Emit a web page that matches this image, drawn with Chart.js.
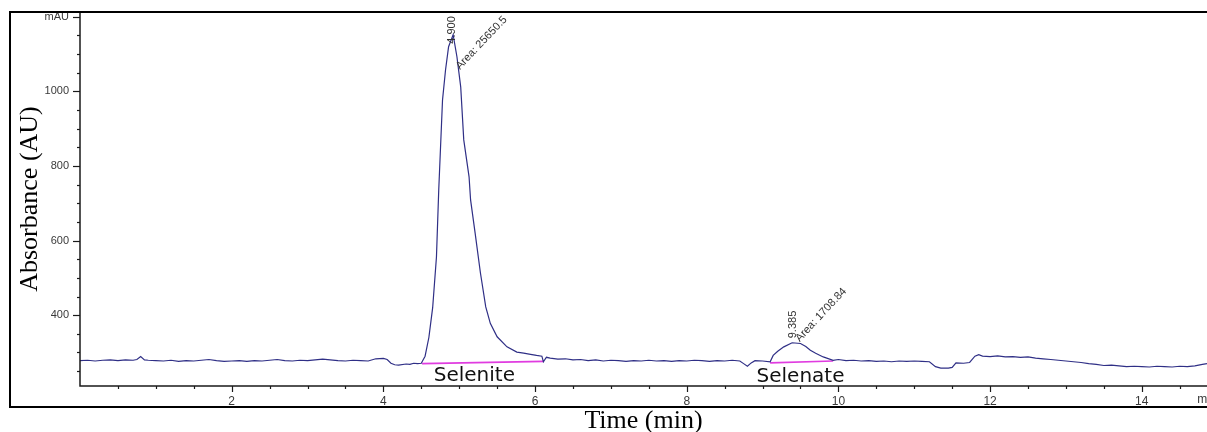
<!DOCTYPE html>
<html>
<head>
<meta charset="utf-8">
<script src="https://cdn.jsdelivr.net/npm/chart.js@4/dist/chart.umd.min.js"></script>
<style>
  html, body { margin: 0; padding: 0; background: #fff; }
  #wrap { width: 1207px; height: 432px; position: relative; }
</style>
</head>
<body>
<div id="wrap"><canvas id="c" width="1207" height="432"></canvas></div>
<script>
// ---- Data ----
const timeMin = [
  0.0, 0.1, 0.2, 0.3, 0.4, 0.5, 0.6, 0.7, 0.75, 0.8, 0.85, 0.9, 1.0, 1.1, 1.2, 1.3, 1.4, 1.5, 1.6, 1.7,
  1.8, 1.9, 2.0, 2.1, 2.2, 2.3, 2.4, 2.5, 2.6, 2.7, 2.8, 2.9, 3.0, 3.1, 3.2, 3.3, 3.4, 3.5, 3.6, 3.7,
  3.8, 3.9, 4.0, 4.05, 4.1, 4.15, 4.2, 4.3, 4.35, 4.4, 4.45, 4.5, 4.55, 4.6, 4.65, 4.70, 4.73, 4.78, 4.82, 4.86,
  4.92, 4.97, 5.02, 5.06, 5.13, 5.15, 5.21, 5.28, 5.35, 5.41, 5.50, 5.63, 5.76, 5.85, 5.94, 6.02, 6.09, 6.11, 6.15, 6.2,
  6.3, 6.4, 6.5, 6.6, 6.7, 6.8, 6.9, 7.0, 7.1, 7.2, 7.3, 7.4, 7.5, 7.6, 7.7, 7.8, 7.9, 8.0, 8.1, 8.2,
  8.3, 8.4, 8.5, 8.6, 8.7, 8.75, 8.8, 8.85, 8.9, 9.0, 9.1, 9.14, 9.2, 9.28, 9.39, 9.5, 9.57, 9.63, 9.7, 9.8,
  9.93, 10.0, 10.1, 10.2, 10.3, 10.4, 10.5, 10.6, 10.7, 10.8, 10.9, 11.0, 11.1, 11.2, 11.28, 11.35, 11.45, 11.5, 11.55, 11.65,
  11.73, 11.8, 11.85, 11.9, 12.0, 12.1, 12.2, 12.3, 12.4, 12.5, 12.6, 12.7, 12.8, 12.9, 13.0, 13.1, 13.2, 13.3, 13.4, 13.5,
  13.6, 13.7, 13.8, 13.9, 14.0, 14.1, 14.2, 14.3, 14.4, 14.5, 14.6, 14.7, 14.8, 14.86
];
const absorbanceMAU = [
  278, 279, 277, 279, 280, 278, 280, 279, 281, 289, 280, 279, 278, 277, 279, 276, 278, 277, 279, 281,
  278, 276, 277, 278, 276, 278, 277, 279, 281, 278, 277, 279, 278, 280, 282, 280, 278, 277, 279, 278,
  277, 283, 284, 281, 271, 267, 266, 269, 268, 271, 270, 271, 290, 340, 420, 556, 735, 977, 1058, 1120,
  1152, 1093, 1012, 870, 771, 709, 620, 513, 422, 378, 342, 315, 301, 298, 295, 292, 290, 275, 287, 285,
  282, 283, 280, 281, 278, 280, 277, 279, 278, 276, 278, 277, 279, 277, 278, 276, 278, 277, 279, 278,
  276, 278, 277, 279, 277, 270, 263, 272, 278, 277, 275, 292, 303, 315, 326, 324, 316, 306, 298, 288,
  279, 281, 278, 279, 277, 278, 276, 277, 275, 277, 276, 277, 276, 275, 262, 258, 258, 260, 272, 271,
  273, 290, 294, 290, 289, 291, 288, 289, 287, 288, 285, 283, 281, 279, 277, 275, 273, 270, 268, 265,
  266, 264, 262, 263, 262, 261, 263, 262, 261, 263, 262, 264, 268, 270
];
// Integration baselines (pink)
const seleniteBaseTime = [4.51, 6.11];
const seleniteBaseMAU = [270, 276];
const selenateBaseTime = [9.10, 9.93];
const selenateBaseMAU = [272, 277];
// Peak annotations
const retentionLabels = ['4.900', '9.385'];
const retentionTime = [4.90, 9.405];
const retentionMAU = [1128, 338];
const areaLabels = ['Area: 25650.5', 'Area: 1708.84'];
const areaTime = [4.98, 9.46];
const areaMAU = [1063, 333];
const compoundNames = ['Selenite', 'Selenate'];
const compoundTime = [5.2, 9.5];
const compoundMAU = [223, 222];
// Axis ranges and ticks
const xMin = 0, xMax = 14.86;
const yMin = 210, yMax = 1213;
const xTickValues = [0.5, 1, 1.5, 2, 2.5, 3, 3.5, 4, 4.5, 5, 5.5, 6, 6.5, 7, 7.5, 8, 8.5, 9, 9.5, 10,
  10.5, 11, 11.5, 12, 12.5, 13, 13.5, 14, 14.5];
const xTickLabels = { 2: '2', 4: '4', 6: '6', 8: '8', 10: '10', 12: '12', 14: '14' };
const yTickValues = [250, 300, 350, 400, 450, 500, 550, 600, 650, 700, 750, 800, 850, 900, 950, 1000,
  1050, 1100, 1150, 1200];
const yTickLabels = { 400: '400', 600: '600', 800: '800', 1000: '1000', 1200: 'mAU' };
const xUnitLabel = 'min';

const traceData = timeMin.map((t, i) => ({ x: t, y: absorbanceMAU[i] }));
const seleniteBase = seleniteBaseTime.map((t, i) => ({ x: t, y: seleniteBaseMAU[i] }));
const selenateBase = selenateBaseTime.map((t, i) => ({ x: t, y: selenateBaseMAU[i] }));

const tickFont = { family: 'Liberation Sans, Arial, sans-serif', size: 11 };

const decor = {
  id: 'decor',
  afterDatasetsDraw(chart) {
    const { ctx, chartArea: a, scales: { x, y } } = chart;
    ctx.save();
    // annotations
    ctx.fillStyle = '#333';
    ctx.font = '11px "Liberation Sans", Arial, sans-serif';
    ctx.textBaseline = 'middle';
    ctx.textAlign = 'left';
    retentionLabels.forEach((txt, i) => {
      ctx.save();
      ctx.translate(x.getPixelForValue(retentionTime[i]), y.getPixelForValue(retentionMAU[i]));
      ctx.rotate(-Math.PI / 2);
      ctx.fillText(txt, 0, 0);
      ctx.restore();
    });
    const angles = [-0.81, -0.82];
    areaLabels.forEach((txt, i) => {
      ctx.save();
      ctx.translate(x.getPixelForValue(areaTime[i]), y.getPixelForValue(areaMAU[i]));
      ctx.rotate(angles[i]);
      ctx.fillText(txt, 0, 0);
      ctx.restore();
    });
    ctx.fillStyle = '#111';
    ctx.font = '20px "DejaVu Sans", sans-serif';
    ctx.textAlign = 'center';
    ctx.textBaseline = 'alphabetic';
    compoundNames.forEach((txt, i) => {
      ctx.fillText(txt, x.getPixelForValue(compoundTime[i]), y.getPixelForValue(compoundMAU[i]));
    });
    // axis lines
    ctx.strokeStyle = '#1a1a1a';
    ctx.lineWidth = 1.5;
    ctx.beginPath();
    ctx.moveTo(a.left, a.top);
    ctx.lineTo(a.left, a.bottom);
    ctx.lineTo(a.right, a.bottom);
    ctx.stroke();
    // tick marks
    ctx.lineWidth = 1.2;
    x.ticks.forEach(t => {
      const px = Math.round(x.getPixelForValue(t.value)) + 0.5;
      const len = (t.value % 2 === 0) ? 6 : 3;
      ctx.beginPath(); ctx.moveTo(px, a.bottom); ctx.lineTo(px, a.bottom + len); ctx.stroke();
    });
    y.ticks.forEach(t => {
      const py = Math.round(y.getPixelForValue(t.value)) + 0.5;
      const len = (t.value % 200 === 0) ? 7 : 3;
      ctx.beginPath(); ctx.moveTo(a.left, py); ctx.lineTo(a.left - len, py); ctx.stroke();
    });
    // outer frame
    ctx.strokeStyle = '#000';
    ctx.lineWidth = 2;
    ctx.beginPath();
    ctx.moveTo(a.right + 2, a.top);
    ctx.lineTo(a.left - 70, a.top);
    ctx.lineTo(a.left - 70, a.bottom + 21);
    ctx.lineTo(a.right + 2, a.bottom + 21);
    ctx.stroke();
    // unit label at the end of the time axis
    ctx.fillStyle = '#3a3a3a';
    ctx.font = '12px "Liberation Sans", Arial, sans-serif';
    ctx.textAlign = 'center';
    ctx.textBaseline = 'middle';
    ctx.fillText(xUnitLabel, x.getPixelForValue(x.max), a.bottom + 14);
    ctx.restore();
  }
};

new Chart(document.getElementById('c'), {
  type: 'line',
  data: {
    datasets: [
      { data: traceData, borderColor: '#2f2f86', borderWidth: 1.2, pointRadius: 0, tension: 0, fill: false },
      { data: seleniteBase, borderColor: '#e03ce0', borderWidth: 1.6, pointRadius: 0, fill: false },
      { data: selenateBase, borderColor: '#e03ce0', borderWidth: 1.6, pointRadius: 0, fill: false }
    ]
  },
  options: {
    responsive: false,
    animation: false,
    devicePixelRatio: 1,
    layout: { padding: { left: 0, right: 0, top: 12, bottom: 0 } },
    plugins: { legend: { display: false }, tooltip: { enabled: false } },
    scales: {
      x: {
        type: 'linear',
        min: xMin, max: xMax,
        bounds: 'data',
        grid: { display: false, drawTicks: false },
        border: { display: false },
        afterBuildTicks(s) { s.ticks = xTickValues.map(v => ({ value: v })); },
        ticks: {
          autoSkip: false, maxRotation: 0, minRotation: 0,
          padding: 8, color: '#3a3a3a', font: { ...tickFont, size: 12 },
          callback: v => xTickLabels[v] || ''
        },
        title: {
          display: true, text: 'Time (min)', color: '#000',
          font: { family: 'Liberation Serif, "Times New Roman", serif', size: 26, lineHeight: 0.8 },
          padding: { top: 0, bottom: 0 }
        },
        afterFit(s) { s.height = 46; s.paddingLeft = 0; s.paddingRight = 0; }
      },
      y: {
        type: 'linear',
        min: yMin, max: yMax,
        bounds: 'data',
        grid: { display: false, drawTicks: false },
        border: { display: false },
        afterBuildTicks(s) { s.ticks = yTickValues.map(v => ({ value: v })); },
        ticks: {
          autoSkip: false,
          padding: 11, color: '#3a3a3a', font: tickFont,
          callback: v => yTickLabels[v] || ''
        },
        title: {
          display: true, text: 'Absorbance (AU)', color: '#000',
          font: { family: 'Liberation Serif, "Times New Roman", serif', size: 26, lineHeight: 0.8 },
          padding: { top: 20, bottom: 0 }
        },
        afterFit(s) { s.width = 80; s.paddingTop = 0; s.paddingBottom = 0; }
      }
    }
  },
  plugins: [decor]
});
</script>
</body>
</html>
